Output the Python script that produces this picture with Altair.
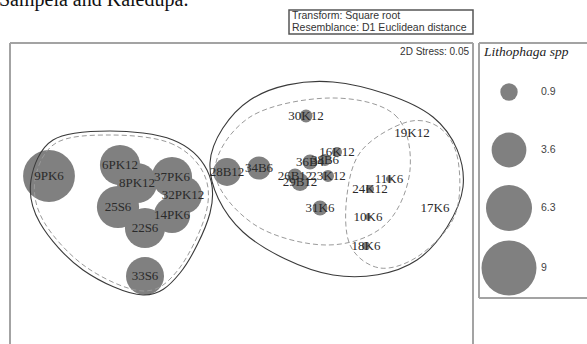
import altair as alt
import pandas as pd

# nMDS ordination of sites (plot units: x right, y down from the frame corner)
samples = ["9PK6", "6PK12", "8PK12", "37PK6", "32PK12", "25S6", "14PK6", "22S6", "33S6",
           "28B12", "34B6", "30K12", "36B4", "38B6", "16K12", "26B12", "29B12", "23K12",
           "31K6", "24K12", "11K6", "10K6", "18K6", "19K12", "17K6"]
mds_x = [39, 110, 127, 162, 173, 108, 162, 135, 135,
         217, 249, 296, 300, 315, 327, 285, 290, 318,
         310, 360, 379, 358, 356, 402, 425]
mds_y = [133, 122, 140, 134, 152, 164, 172, 185, 233,
         129, 125, 73, 119, 117, 109, 133, 139, 133,
         165, 146, 136, 174, 203, 90, 165]
# Lithophaga spp abundance (square-root transformed) per site
lithophaga = [8.0, 4.8, 4.8, 4.8, 4.3, 5.3, 3.9, 4.8, 4.3,
              2.3, 1.6, 0.5, 0.67, 0.43, 0.3, 0.67, 0.96, 0.43,
              0.67, 0.19, 0.11, 0.11, 0.19, 0.0, 0.0]

# similarity contours (cluster outlines), vertices in the same plot units
left_solid_x = [100, 163, 197, 200, 170, 133, 73, 30, 21, 43]
left_solid_y = [88, 97, 127, 170, 230, 252, 227, 180, 137, 97]
left_dash_x = [100, 160, 193, 196, 168, 133, 76, 34, 25, 46]
left_dash_y = [92, 100, 129, 170, 227, 248, 224, 179, 137, 100]
mid_solid_x = [323, 423, 453, 407, 323, 233, 200, 240]
mid_solid_y = [39, 74, 144, 217, 232, 189, 120, 57]
mid_dash_x = [320, 385, 400, 375, 317, 245, 205, 240]
mid_dash_y = [55, 72, 127, 182, 202, 182, 129, 74]
right_dash_x = [397, 430, 448, 445, 410, 370, 340, 337, 352]
right_dash_y = [79, 85, 117, 172, 212, 225, 202, 152, 107]

# bubble legend
legend_values = [0.9, 3.6, 6.3, 9]
legend_labels = ["0.9", "3.6", "6.3", "9"]

W, H = 577, 301
XS = alt.Scale(domain=[0, W], nice=False, zero=False)
YS = alt.Scale(domain=[0, H], nice=False, zero=False, reverse=True)
SIZE = alt.Scale(type="linear", domain=[0, 9], range=[0, 3025], zero=True)

pts = pd.DataFrame({"site": samples, "x": mds_x, "y": mds_y, "v": lithophaga})

contour_rows = []
for name, xs, ys in [("ls", left_solid_x, left_solid_y), ("ms", mid_solid_x, mid_solid_y)]:
    for i, (a, b) in enumerate(zip(xs, ys)):
        contour_rows.append({"c": name, "i": i, "x": a, "y": b, "kind": "solid"})
for name, xs, ys in [("ld", left_dash_x, left_dash_y), ("md", mid_dash_x, mid_dash_y),
                     ("rd", right_dash_x, right_dash_y)]:
    for i, (a, b) in enumerate(zip(xs, ys)):
        contour_rows.append({"c": name, "i": i, "x": a, "y": b, "kind": "dash"})
contours = pd.DataFrame(contour_rows)

leg = pd.DataFrame({"v": legend_values, "lab": legend_labels,
                    "x": [499] * 4, "y": [49, 107, 165, 225]})

# panel outlines (plot frame and legend box)
frames = pd.DataFrame({
    "x": [0, 0, 463, 469, 469, 469],
    "x2": [0, 463, 463, 469, 600, 600],
    "y": [0, 0, 0, 0, 0, 255],
    "y2": [330, 0, 330, 255, 0, 255],
})

one = pd.DataFrame({"k": [0]})

bubbles = alt.Chart(pts).mark_circle(color="#808080", opacity=1).encode(
    x=alt.X("x:Q", scale=XS, axis=None),
    y=alt.Y("y:Q", scale=YS, axis=None),
    size=alt.Size("v:Q", scale=SIZE, legend=None),
)

solid = alt.Chart(contours).transform_filter(alt.datum.kind == "solid").mark_line(
    interpolate="cardinal-closed", color="#3a3a3a", strokeWidth=1.1
).encode(x=alt.X("x:Q", scale=XS), y=alt.Y("y:Q", scale=YS), detail="c:N", order="i:Q")

dashed = alt.Chart(contours).transform_filter(alt.datum.kind == "dash").mark_line(
    interpolate="cardinal-closed", color="#9a9a9a", strokeWidth=1, strokeDash=[5, 3]
).encode(x=alt.X("x:Q", scale=XS), y=alt.Y("y:Q", scale=YS), detail="c:N", order="i:Q")

labels = alt.Chart(pts).mark_text(
    font="Liberation Serif", fontSize=13, color="#2a2a2a"
).encode(x=alt.X("x:Q", scale=XS), y=alt.Y("y:Q", scale=YS), text="site:N")

frame = alt.Chart(frames).mark_rule(color="#a3a3a3", strokeWidth=2).encode(
    x=alt.X("x:Q", scale=XS), x2="x2:Q", y=alt.Y("y:Q", scale=YS), y2="y2:Q"
)

leg_dots = alt.Chart(leg).mark_circle(color="#808080", opacity=1).encode(
    x=alt.X("x:Q", scale=XS), y=alt.Y("y:Q", scale=YS),
    size=alt.Size("v:Q", scale=SIZE, legend=None),
)
leg_text = alt.Chart(leg).mark_text(
    font="Liberation Sans", fontSize=10.5, color="#444", align="left", dx=32
).encode(x=alt.X("x:Q", scale=XS), y=alt.Y("y:Q", scale=YS), text="lab:N")
leg_title = alt.Chart(one).mark_text(
    text="Lithophaga spp", font="Liberation Serif", fontStyle="italic", fontSize=13.5,
    color="#222", align="left", baseline="middle"
).encode(x=alt.value(474), y=alt.value(9))

stress = alt.Chart(one).mark_text(
    text="2D Stress: 0.05", font="Liberation Sans", fontSize=10, color="#333",
    align="right", baseline="middle"
).encode(x=alt.value(459), y=alt.value(9))

heading = alt.Chart(one).mark_text(
    text="Sampela and Kaledupa.", font="Liberation Serif", fontSize=20, color="#111",
    align="left", baseline="alphabetic"
).encode(x=alt.value(-11), y=alt.value(-37))

note_box = alt.Chart(one).mark_rect(fill="white", stroke="#555", strokeWidth=1.5).encode(
    x=alt.value(279), x2=alt.value(463), y=alt.value(-33), y2=alt.value(-9)
)
note1 = alt.Chart(one).mark_text(
    text="Transform: Square root", font="Liberation Sans", fontSize=10.5, color="#333",
    align="left", baseline="middle"
).encode(x=alt.value(282), y=alt.value(-27))
note2 = alt.Chart(one).mark_text(
    text="Resemblance: D1 Euclidean distance", font="Liberation Sans", fontSize=10.5,
    color="#333", align="left", baseline="middle"
).encode(x=alt.value(282), y=alt.value(-15))

chart = alt.layer(
    bubbles, solid, dashed, labels, frame, leg_dots, leg_text, leg_title,
    stress, heading, note_box, note1, note2
).properties(
    width=W, height=H,
    padding={"left": 10, "top": 43, "right": 0, "bottom": 0},
    autosize=alt.AutoSizeParams(type="none"),
).configure_view(stroke=None)

chart.save("out.html", embed_options={"renderer": "svg", "actions": False})
